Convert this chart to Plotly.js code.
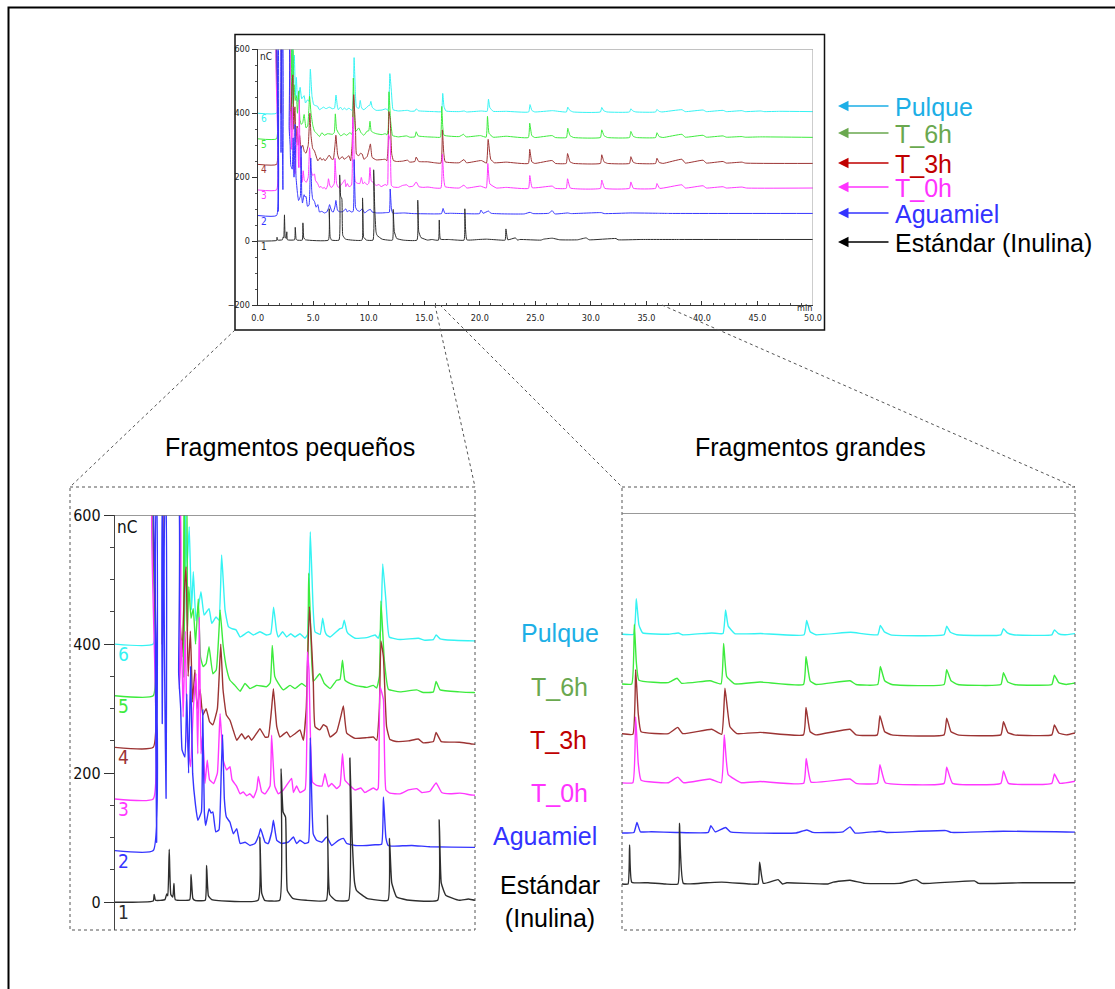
<!DOCTYPE html>
<html><head><meta charset="utf-8">
<script src="https://cdn.plot.ly/plotly-3.0.1.min.js"></script>
<style>html,body{margin:0;padding:0;background:#fff}#chart{width:1115px;height:989px}</style>
</head><body><div id="chart"></div>
<script>
// ---------- DATA (time in min, signal in nC incl. trace offset) ----------
const series_names = ['Pulque','T_6h','T_3h','T_0h','Aguamiel','Estándar (Inulina)'];
const trace_numbers = ['6','5','4','3','2','1'];
const trace_offsets = [400,320,240,160,80,0];

const pulque_pts = [[0,400],[1.70,400],[1.72,650],[3.00,650],[3.08,430],[3.14,600],[3.20,520],[3.30,582],[3.40,453],[3.48,512],[3.60,436],[3.82,481],[3.96,445],[4.18,455],[4.30,432],[4.49,442],[4.62,437],[4.74,538],[4.89,453],[5.04,427],[5.19,424],[5.38,422],[5.56,411],[5.93,419],[6.15,414],[6.44,419],[6.74,414],[6.92,416],[7.05,457],[7.18,420],[7.26,411],[7.45,419],[7.63,411],[7.81,416],[8.00,411],[8.22,416],[8.44,409],[8.56,415],[8.68,574],[8.80,460],[8.89,419],[9.12,415],[9.23,440],[9.33,420],[9.41,414],[9.56,411],[10.00,424],[10.10,425],[10.19,437],[10.30,420],[10.37,416],[10.67,409],[11.19,410],[11.56,414],[11.70,409],[11.80,420],[11.90,524],[12.04,468],[12.19,411],[12.67,407],[13.48,409],[13.78,406],[14.15,407],[14.27,414],[14.45,408],[14.59,407],[15.93,405],[16.54,405],[16.66,462],[16.78,420],[16.95,407],[18.14,405],[18.60,407],[18.80,404],[20.14,407],[20.66,406],[20.78,444],[20.90,418],[21.20,406],[22.40,406],[24.40,404],[24.52,427],[24.68,409],[24.95,404],[26.55,408],[27.80,404],[27.92,419],[28.10,409],[28.40,404],[30.86,404],[30.98,418],[31.15,408],[31.45,404],[33.48,404],[33.60,414],[33.78,407],[34.05,404],[35.83,404],[35.95,412],[36.13,406],[36.40,404],[38.20,411],[38.50,405],[40.10,410],[40.40,405],[41.90,409],[42.20,405],[43.60,408],[43.90,405],[45.30,407],[45.60,405],[47.00,406],[50.00,405]];

const t6h_pts = [[0,320],[1.70,320],[1.73,650],[2.95,650],[3.05,349],[3.10,650],[3.16,650],[3.22,420],[3.28,489],[3.38,440],[3.48,455],[3.58,400],[3.70,470],[3.80,380],[3.92,365],[4.05,370],[4.18,396],[4.35,354],[4.50,360],[4.62,420],[4.67,453],[4.80,400],[4.96,362],[5.11,344],[5.33,336],[5.56,327],[5.78,339],[6.00,331],[6.30,336],[6.74,334],[6.90,340],[6.99,398],[7.10,350],[7.26,339],[7.48,329],[7.78,336],[8.00,331],[8.30,339],[8.50,334],[8.61,510],[8.70,420],[8.81,342],[9.10,354],[9.30,339],[9.56,331],[9.85,344],[10.00,345],[10.11,375],[10.22,344],[10.44,339],[10.67,336],[11.19,333],[11.48,336],[11.63,332],[11.75,350],[11.82,467],[11.97,375],[12.15,330],[12.67,326],[13.41,329],[13.70,325],[14.15,326],[14.27,342],[14.45,329],[15.30,326],[15.93,325],[16.45,325],[16.57,421],[16.66,360],[16.78,331],[18.14,327],[18.54,334],[18.75,326],[20.06,330],[20.57,325],[20.69,390],[20.83,337],[21.20,325],[22.37,328],[24.37,324],[24.49,369],[24.68,330],[24.95,324],[26.52,330],[26.80,324],[27.80,324],[27.92,353],[28.12,330],[28.45,324],[30.86,324],[30.98,348],[31.18,330],[31.50,324],[33.48,324],[33.60,343],[33.80,328],[34.10,324],[35.83,324],[35.95,339],[36.15,327],[36.50,324],[38.20,334],[38.50,325],[40.10,331],[40.40,325],[41.90,329],[42.20,325],[43.60,327],[43.90,325],[45.30,326],[50.00,324.5]];

const t3h_pts = [[0,240],[1.70,240],[1.73,650],[2.05,650],[2.10,400],[2.15,527],[2.20,650],[2.80,650],[2.88,450],[2.98,380],[3.08,480],[3.16,520],[3.25,350],[3.35,420],[3.45,310],[3.55,360],[3.65,300],[3.78,330],[3.90,290],[4.05,300],[4.20,280],[4.35,275],[4.55,300],[4.70,400],[4.80,330],[4.95,290],[5.11,282],[5.26,266],[5.41,251],[5.63,261],[5.78,253],[5.93,258],[6.07,251],[6.30,262],[6.44,269],[6.67,256],[6.81,256],[6.96,300],[7.04,331],[7.19,272],[7.33,256],[7.63,264],[7.78,256],[8.00,261],[8.22,267],[8.37,251],[8.50,300],[8.64,458],[8.81,346],[8.89,272],[9.10,267],[9.26,275],[9.41,272],[9.56,256],[9.85,264],[10.05,290],[10.15,304],[10.30,262],[10.67,254],[11.19,255],[11.48,256],[11.63,251],[11.75,300],[11.82,405],[11.93,380],[12.07,272],[12.22,252],[12.50,249],[13.04,250],[13.48,253],[13.70,247],[14.15,249],[14.27,263],[14.50,249],[15.30,248],[15.93,245],[16.50,244],[16.63,348],[16.75,277],[16.88,248],[18.14,245],[18.57,255],[18.80,245],[20.14,252],[20.60,244],[20.75,318],[20.98,256],[21.30,245],[22.37,247],[24.37,243],[24.49,287],[24.68,248],[24.95,243],[26.52,252],[26.80,243],[27.78,243],[27.90,274],[28.12,248],[28.45,243],[30.86,243],[30.98,270],[31.18,248],[31.50,243],[33.48,243],[33.60,264],[33.80,247],[34.10,243],[35.83,243],[35.95,259],[36.15,246],[36.50,243],[38.20,256],[38.50,244],[40.10,253],[40.40,244],[41.90,249],[42.20,244],[43.60,247],[43.90,244],[50.00,243]];

const t0h_pts = [[0,160],[1.70,160],[1.73,650],[2.80,650],[2.86,330],[2.96,406],[3.03,287],[3.12,420],[3.22,250],[3.36,210],[3.48,300],[3.60,354],[3.68,230],[3.75,442],[3.82,230],[3.90,262],[4.00,184],[4.10,220],[4.20,190],[4.38,184],[4.55,200],[4.67,292],[4.81,220],[4.96,205],[5.11,210],[5.20,190],[5.40,180],[5.56,168],[5.70,171],[5.85,165],[6.00,168],[6.15,162],[6.30,175],[6.37,195],[6.52,171],[6.67,168],[6.89,180],[6.96,259],[7.10,180],[7.26,168],[7.48,174],[7.70,185],[7.85,192],[7.93,170],[8.07,180],[8.22,170],[8.45,175],[8.55,388],[8.62,360],[8.78,186],[8.96,181],[9.20,180],[9.33,199],[9.48,179],[9.63,184],[9.85,176],[10.00,181],[10.11,230],[10.22,189],[10.44,181],[10.67,174],[10.93,177],[11.10,170],[11.48,177],[11.63,174],[11.70,177],[11.78,334],[11.93,314],[12.04,174],[12.22,169],[12.67,168],[13.04,174],[13.41,176],[13.63,170],[14.00,172],[14.27,185],[14.52,170],[14.89,168],[15.33,169],[15.93,166],[16.50,166],[16.63,272],[16.75,197],[16.88,170],[18.14,166],[18.57,175],[18.83,166],[20.06,172],[20.58,166],[20.72,243],[20.90,179],[21.50,166],[22.37,168],[24.38,165],[24.50,205],[24.72,167],[26.52,172],[26.80,165],[27.78,165],[27.90,195],[28.15,166],[30.86,165],[30.98,191],[31.25,165],[33.48,165],[33.60,185],[33.83,165],[35.83,165],[35.95,180],[36.20,165],[38.20,176],[38.50,166],[40.10,173],[40.40,166],[41.90,170],[42.20,166],[43.60,169],[44.00,166],[50.00,166]];

const aguamiel_pts = [[0,80],[1.70,80],[1.73,650],[1.82,650],[1.85,93],[1.88,650],[2.06,650],[2.10,277],[2.14,650],[2.23,650],[2.27,161],[2.31,650],[2.78,650],[2.83,355],[2.92,300],[2.98,236],[3.11,225],[3.19,323],[3.27,200],[3.36,365],[3.45,200],[3.58,150],[3.68,127],[3.84,140],[3.90,298],[3.97,140],[4.03,119],[4.18,145],[4.27,138],[4.35,140],[4.48,109],[4.62,112],[4.72,200],[4.78,260],[4.86,160],[4.95,132],[5.11,124],[5.26,106],[5.41,114],[5.56,91],[5.78,93],[6.00,88],[6.22,91],[6.40,105],[6.47,114],[6.67,93],[6.81,91],[6.97,110],[7.04,127],[7.19,96],[7.41,91],[7.70,93],[7.93,101],[8.07,91],[8.22,96],[8.44,91],[8.60,93],[8.68,255],[8.81,106],[8.96,96],[9.19,93],[9.41,101],[9.63,88],[9.93,96],[10.15,99],[10.30,91],[10.67,88],[11.19,88],[11.56,89],[11.85,90],[11.93,163],[12.04,100],[12.14,88],[12.40,87],[13.19,88],[14.00,86],[15.93,85],[16.55,86],[16.69,102],[16.85,87],[17.35,87],[18.50,86],[19.98,86],[20.10,97],[20.30,87],[20.78,94],[21.00,87],[24.00,85],[24.52,90],[24.80,86],[26.20,87],[26.52,95],[26.75,85],[27.92,88],[28.20,86],[30.95,89],[31.20,86],[33.60,88],[36.00,87],[37.00,86.5],[50.00,86.5]];

const estandar_pts = [[0,0],[1.70,2],[1.74,12],[1.80,3],[2.22,4],[2.30,13],[2.35,10],[2.41,82],[2.48,12],[2.57,8],[2.62,29],[2.68,4],[3.32,4],[3.38,43],[3.46,6],[3.55,3],[4.01,3],[4.07,57],[4.15,10],[4.30,4],[6.36,3],[6.44,101],[6.52,14],[6.65,3],[7.32,3],[7.38,207],[7.47,140],[7.58,132],[7.66,18],[7.90,6],[8.50,3],[9.39,3],[9.44,135],[9.54,12],[9.80,3],[10.38,3],[10.44,223],[10.54,100],[10.65,30],[10.74,18],[11.20,6],[12.13,3],[12.20,99],[12.30,30],[12.52,8],[13.10,3],[14.34,3],[14.41,128],[14.50,30],[14.70,11],[15.30,3],[15.70,5],[16.00,3],[16.28,3],[16.35,66],[16.45,6],[17.20,5],[18.00,3],[18.58,3],[18.65,101],[18.83,4],[19.90,5],[20.60,6],[21.90,3],[22.28,3],[22.35,38],[22.52,4],[23.20,10],[23.40,3],[23.60,5],[25.50,3],[25.75,6],[26.52,9],[27.20,4],[28.80,4],[29.57,10],[29.85,4],[32.26,8],[32.45,4],[34.50,5],[38.00,5],[50.00,5]];

const x_tick_values = [0,5,10,15,20,25,30,35,40,45,50];
const y_tick_values_top = [-200,0,200,400,600];
const y_tick_values_zoom = [0,200,400,600];

// ---------- STYLE ----------
const all_pts = [pulque_pts,t6h_pts,t3h_pts,t0h_pts,aguamiel_pts,estandar_pts];
const trace_colors = ['#35F3F3','#3DEB3D','#9C3434','#FF38FF','#3535FF','#2E2E2E'];
const legend_colors = ['#1DAFE6','#6AA84F','#C00000','#FF33FF','#3333FF','#000000'];
const NARROW = '"Liberation Sans Narrow","Arial Narrow","DejaVu Sans Condensed","Liberation Sans",sans-serif';
const SANS = '"Liberation Sans",Arial,Helvetica,sans-serif';
const W = 1115, H = 989;
const X = px => px / W, Y = py => 1 - py / H;

const panels = [['x','y',1.0],['x2','y2',1.4],['x3','y3',1.4]];
const data = [];
panels.forEach(([xa,ya,w]) => {
  all_pts.forEach((pts,i) => {
    data.push({x: pts.map(d=>d[0]), y: pts.map(d=>d[1]), xaxis: xa, yaxis: ya,
      type:'scatter', mode:'lines', line:{color: trace_colors[i], width: w, shape:'spline', smoothing:0.35},
      hoverinfo:'skip', showlegend:false, name: series_names[i]});
  });
});

const dotted = {color:'#555', width:1, dash:'dot'};
const shapes = [
  {type:'rect', xref:'paper', yref:'paper', x0:X(8.5), y0:Y(7.5), x1:X(1130), y1:Y(1000), line:{color:'#000', width:2}},
  {type:'rect', xref:'paper', yref:'paper', x0:X(235), y0:Y(34.5), x1:X(824.5), y1:Y(330), line:{color:'#111', width:1.5}},
  {type:'line', xref:'x', yref:'y', x0:0, x1:50, y0:600, y1:600, line:{color:'#9a9a9a', width:1}},
  {type:'line', xref:'x', yref:'y', x0:50, x1:50, y0:-200, y1:600, line:{color:'#9a9a9a', width:1}},
  {type:'rect', xref:'paper', yref:'paper', x0:X(70), y0:Y(487), x1:X(475), y1:Y(930), line:dotted},
  {type:'rect', xref:'paper', yref:'paper', x0:X(622), y0:Y(487), x1:X(1075), y1:Y(930), line:dotted},
  {type:'line', xref:'paper', yref:'paper', x0:X(235), y0:Y(330), x1:X(70), y1:Y(487), line:dotted},
  {type:'line', xref:'paper', yref:'paper', x0:X(435), y0:Y(305), x1:X(475), y1:Y(487), line:dotted},
  {type:'line', xref:'paper', yref:'paper', x0:X(440), y0:Y(305), x1:X(622), y1:Y(487), line:dotted},
  {type:'line', xref:'paper', yref:'paper', x0:X(662), y0:Y(305), x1:X(1075), y1:Y(487), line:dotted},
  {type:'line', xref:'paper', yref:'y2', x0:X(115), x1:X(475), y0:600, y1:600, line:{color:'#777', width:1.3}},
  {type:'line', xref:'paper', yref:'y3', x0:X(622), x1:X(1075), y0:600, y1:600, line:{color:'#777', width:1.3}}
];

const annotations = [];
// titles of zoom panels
annotations.push({xref:'paper', yref:'paper', x:X(290), y:Y(447), text:'Fragmentos pequeños', showarrow:false, font:{family:SANS, size:25, color:'#000'}, xanchor:'center', yanchor:'middle'});
annotations.push({xref:'paper', yref:'paper', x:X(810), y:Y(447), text:'Fragmentos grandes', showarrow:false, font:{family:SANS, size:25, color:'#000'}, xanchor:'center', yanchor:'middle'});
// legend with arrows
const legend_y = [106,133,163,187,213,242];
series_names.forEach((nm,i) => {
  annotations.push({xref:'paper', yref:'paper', x:X(838), y:Y(legend_y[i]), ax:52, ay:0, text:'', showarrow:true,
    arrowhead:2, arrowsize:1.4, arrowwidth:1.5, arrowcolor:legend_colors[i]});
  annotations.push({xref:'paper', yref:'paper', x:X(893), y:Y(legend_y[i]+1), text:nm, showarrow:false,
    xanchor:'left', yanchor:'middle', font:{family:SANS, size:25, color:legend_colors[i]}});
});
// middle labels between zoom panels
const mid_x = [560,559,558,559,545,550];
const mid_y = [633,687,740,793,836,901];
const mid_text = ['Pulque','T_6h','T_3h','T_0h','Aguamiel','Estándar<br>(Inulina)'];
mid_text.forEach((t,i) => {
  annotations.push({xref:'paper', yref:'paper', x:X(mid_x[i]), y:Y(mid_y[i]), text:t, showarrow:false,
    xanchor:'center', yanchor:'middle', align:'center', font:{family:SANS, size:25, color:legend_colors[i]}});
});
// trace numbers near y axes
trace_numbers.forEach((n,i) => {
  annotations.push({xref:'x', yref:'y', x:0.12, y:trace_offsets[i], text:n, showarrow:false, xanchor:'left', yanchor:'top',
    font:{family:NARROW, size:10, color:trace_colors[i]}, yshift:2});
  annotations.push({xref:'x2', yref:'y2', x:0.05, y:trace_offsets[i], text:n, showarrow:false, xanchor:'left', yanchor:'top',
    font:{family:NARROW, size:19, color:trace_colors[i]}, yshift:3});
});
annotations.push({xref:'x', yref:'y', x:0.05, y:600, text:'nC', showarrow:false, xanchor:'left', yanchor:'top', font:{family:NARROW, size:10, color:'#222'}});
annotations.push({xref:'x2', yref:'y2', x:0.0, y:600, text:'nC', showarrow:false, xanchor:'left', yanchor:'top', font:{family:NARROW, size:17, color:'#111'}});
annotations.push({xref:'paper', yref:'paper', x:X(814), y:Y(308), text:'min', showarrow:false, xanchor:'right', yanchor:'middle', font:{family:NARROW, size:9, color:'#222'}});

const layout = {
  width:W, height:H, margin:{l:0,r:0,t:0,b:0}, paper_bgcolor:'#fff', plot_bgcolor:'rgba(0,0,0,0)', showlegend:false,
  xaxis:{domain:[X(257.7),X(813)], range:[0,50], anchor:'y', tickmode:'array', tickvals:x_tick_values,
    ticktext:x_tick_values.map(v=>v.toFixed(1)), ticks:'inside', ticklen:4, tickcolor:'#333',
    minor:{tickmode:'linear', tick0:0, dtick:1, ticks:'inside', ticklen:2, tickcolor:'#555'},
    showline:true, linecolor:'#333', linewidth:1, showgrid:false, zeroline:false, ticklabelstandoff:4,
    tickfont:{family:NARROW, size:9, color:'#222'}},
  yaxis:{domain:[Y(305),Y(49.3)], range:[-200,600], anchor:'x', tickmode:'array', tickvals:y_tick_values_top,
    ticks:'outside', ticklen:5, tickcolor:'#333',
    minor:{tickmode:'linear', tick0:0, dtick:50, ticks:'outside', ticklen:2, tickcolor:'#555'},
    showline:true, linecolor:'#333', linewidth:1, showgrid:false, zeroline:false,
    tickfont:{family:NARROW, size:9, color:'#222'}},
  xaxis2:{domain:[X(115),X(475)], range:[0,16], anchor:'y2', visible:false},
  yaxis2:{domain:[Y(930),Y(515)], range:[-43,600], anchor:'x2', tickmode:'array', tickvals:y_tick_values_zoom,
    ticks:'outside', ticklen:10, tickcolor:'#333',
    minor:{tickmode:'linear', tick0:0, dtick:50, ticks:'outside', ticklen:4, tickcolor:'#444'},
    showline:true, linecolor:'#444', linewidth:1.2, showgrid:false, zeroline:false, ticklabelstandoff:0,
    tickfont:{family:NARROW, size:16, color:'#111'}},
  xaxis3:{domain:[X(622),X(1075)], range:[16,36.9], anchor:'y3', visible:false},
  yaxis3:{domain:[Y(930),Y(513)], range:[-71,600], anchor:'x3', visible:false},
  shapes, annotations
};
Plotly.newPlot('chart', data, layout, {displayModeBar:false, staticPlot:true});
</script>
</body></html>
